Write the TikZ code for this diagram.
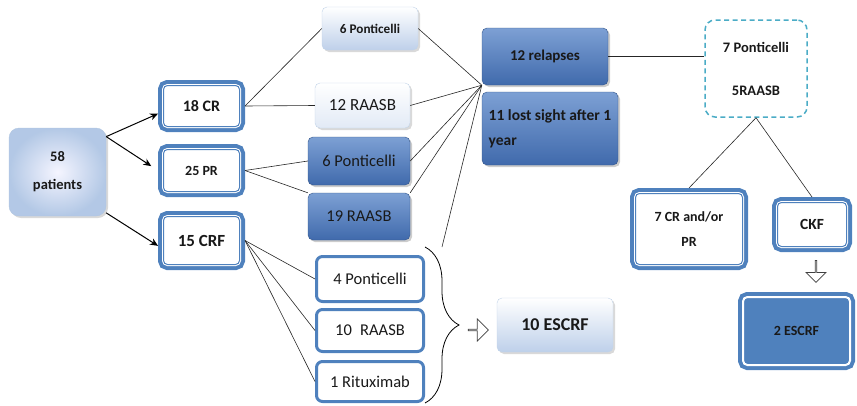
\documentclass[tikz,border=0pt]{standalone}
\usepackage{fontspec}
\setmainfont{Carlito}
\usetikzlibrary{positioning,arrows.meta,shadows,shapes.arrows,decorations.pathreplacing}
\definecolor{boxblue}{RGB}{79,129,189}
\definecolor{paleblue}{RGB}{190,208,234}
\definecolor{darktop}{RGB}{125,160,212}
\definecolor{darkbot}{RGB}{64,106,172}
\definecolor{dashblue}{RGB}{75,172,198}
\newcommand{\fsz}[2]{\fontsize{#1}{#2}\selectfont}

\begin{document}
\begin{tikzpicture}[x=1pt, y=-1pt, >={Stealth[length=8pt,width=7pt]},
  every node/.style={align=center, inner sep=0pt, text=black!90},
  dbl/.style={rounded corners=4pt, fill=white, draw=boxblue, line width=1pt, outer sep=5.5pt,
    preaction={draw=boxblue, line width=11pt}, preaction={draw=white, line width=3pt}},
  single/.style={rounded corners=6pt, fill=white, draw=boxblue, line width=3pt, outer sep=1.5pt,
    minimum width=107pt, font=\fsz{16.5}{20}},
  light/.style={rounded corners=5pt, draw=boxblue!35, line width=.4pt, top color=white, bottom color=paleblue,
    drop shadow={shadow xshift=2pt, shadow yshift=-2pt, opacity=.3}},
  dark/.style={rounded corners=5pt, draw=darkbot!80!black, line width=.4pt, top color=darktop, bottom color=darkbot,
    drop shadow={shadow xshift=2pt, shadow yshift=-2pt, opacity=.4}},
  hollow/.style={single arrow, draw=black!75, fill=white, line width=.8pt, minimum height=20pt,
    minimum width=22pt, single arrow head extend=6pt},
  link/.style={draw=black!85, line width=.6pt}]
  \useasboundingbox (0,0) rectangle (857,405);

  % start and first outcome
  \node[rounded corners=10pt, minimum width=97pt, minimum height=88pt, draw=boxblue!45, line width=.4pt,
    inner color=blue!4!white, outer color=paleblue!90!boxblue, font=\bfseries\fsz{14.5}{28},
    drop shadow={shadow xshift=2pt, shadow yshift=-2pt, opacity=.3}] (pat) at (57.5,172) {58\\patients};
  \node[dbl, minimum width=76pt, minimum height=41pt, font=\bfseries\fsz{16}{19}] (cr) at (201.5,106) {18 CR};
  \node[dbl, minimum width=76pt, minimum height=42pt, font=\bfseries\fsz{14}{17}] (pr) at (201.5,170.5) {25 PR};
  \node[dbl, minimum width=76pt, minimum height=48pt, font=\bfseries\fsz{17}{20}] (crf) at (201.5,240.5) {15 CRF};

  % treatments
  \node[light, minimum width=96pt, minimum height=43pt, font=\bfseries\fsz{13.2}{16}] (pt) at (370,28.5) {6 Ponticelli};
  \node[light, bottom color=paleblue!45, minimum width=95pt, minimum height=45pt, font=\fsz{17}{20}] (ra) at (362.5,105.5) {12 RAASB};
  \node[dark, minimum width=102pt, minimum height=48pt, font=\fsz{16.5}{20}] (pd) at (359,161) {6 Ponticelli};
  \node[dark, minimum width=102pt, minimum height=47pt, font=\fsz{16.5}{20}] (rd) at (359,216.5) {19 RAASB};
  \node[single, minimum height=45pt] (p4) at (370,279) {4 Ponticelli};
  \node[single, minimum height=42pt] (r10) at (370,330.5) {10\enspace RAASB};
  \node[single, minimum height=40pt] (rx) at (370,381.5) {1 Rituximab};

  % follow-up
  \node[dark, minimum width=126pt, minimum height=57pt, font=\bfseries\fsz{15}{18}] (rel) at (545,56.5) {12 relapses};
  \node[dark, minimum width=136pt, minimum height=73pt, align=left,
    font=\bfseries\fsz{15.5}{25}] (lost) at (550,128.5) {11 lost sight after 1\\year};
  \node[light, minimum width=116pt, minimum height=54pt, font=\bfseries\fsz{18}{21}] (esc) at (555,325) {10 ESCRF};
  \node[draw=dashblue, line width=1.5pt, dash pattern=on 5pt off 3.5pt, rounded corners=10pt, minimum width=102pt,
    minimum height=97pt, font=\bfseries\fsz{14.5}{43}] (rem) at (756,68.5) {7 Ponticelli\\5RAASB};
  \node[dbl, minimum width=107pt, minimum height=71pt, font=\bfseries\fsz{14}{25}] (cr7) at (689,229) {7 CR and/or\\PR};
  \node[dbl, minimum width=69pt, minimum height=44pt, font=\bfseries\fsz{15.5}{18}] (ckf) at (812,224.5) {CKF};
  \node[dbl, fill=boxblue, draw=white, minimum width=106pt, minimum height=67pt,
    font=\bfseries\fsz{14}{17}] (esc2) at (796.5,331) {2 ESCRF};

  \node[hollow] (harr) at (478,330) {};
  \node[hollow, shape border rotate=270, minimum height=22pt, minimum width=20pt, single arrow head extend=4.5pt] (varr) at (816,271) {};

  \coordinate (conv) at (rel.south west);
  \coordinate (bra) at (425,247);
  \coordinate (brb) at (425,403);
  \coordinate (brtop) at ([xshift=17pt]bra);

  % connectors
  \draw[->, line width=1pt] (pat.36) -- (cr.190);
  \draw[->, line width=1pt, shorten >=8pt] (pat.36) -- (pr.west);
  \draw[->, line width=1pt] (pat.320) -- (crf.187);
  \foreach \t in {pt.west, ra.west} \draw[link] (cr.east) -- (\t);
  \foreach \t in {pd.west, rd.north west} \draw[link] (pr.east) -- (\t);
  \foreach \t in {p4.west, r10.west, rx.west} \draw[link] (crf.east) -- (\t);
  \foreach \s in {pt.east, ra.east, pd.east, rd.north east, brtop} \draw[link] (\s) -- (conv);
  \draw[line width=.8pt, decorate, decoration={brace, amplitude=34pt}] (bra) -- (brb);
  \draw[link] (rel.east) -- (rel.east -| rem.west);
  \draw[link] (rem.south) -- (cr7.north);
  \draw[link] (rem.south) -- (ckf.north);
\end{tikzpicture}
\end{document}
